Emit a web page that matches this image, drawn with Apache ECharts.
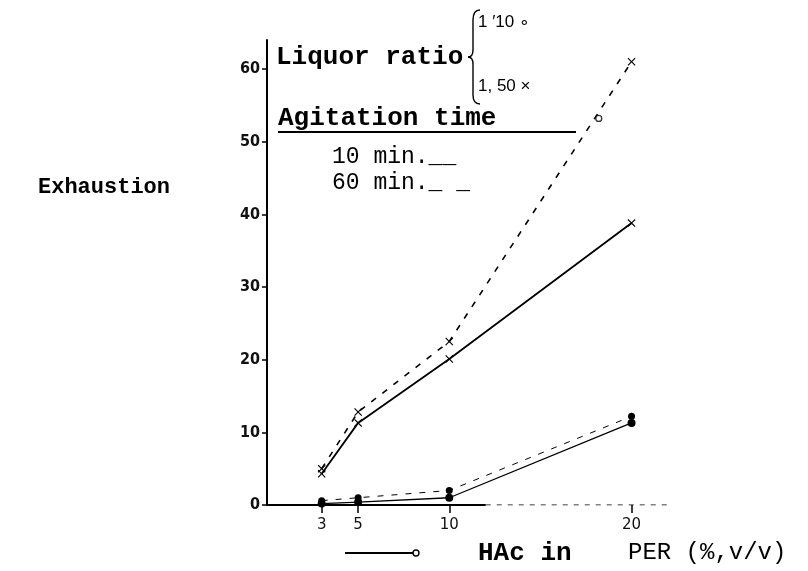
<!DOCTYPE html>
<html>
<head>
<meta charset="utf-8">
<script src="https://cdn.jsdelivr.net/npm/echarts@6/dist/echarts.min.js"></script>
<style>
  html, body { margin: 0; padding: 0; background: #fff; }
  #chart { width: 808px; height: 571px; }
</style>
</head>
<body>
<div id="chart"></div>
<script>
// HAc concentration in PER (%, v/v)
const xTicks = [3, 5, 10, 20]
const yTicks = [0, 10, 20, 30, 40, 50, 60]

// liquor ratio 1:50 (x marks)
const r50min60 = [5.0, 12.8, 22.5, 61.0]
const r50min10 = [4.3, 11.3, 20.1, 38.8]
// liquor ratio 1:10 (o marks)
const r10min10 = [0.2, 0.4, 1.0, 11.3]
const r10min60 = [0.6, 1.0, 2.0, 12.2]
// lone open circle sitting on the dashed 1:50 curve
const strayPoint = [[18.2, 53.2]]

// x axis drawn solid up to about 12, dotted after
const baseSolid = [0, 12]
const baseDotted = [12, 22]

const crossSymbol = 'path://M0,1L1,0L5,4L9,0L10,1L6,5L10,9L9,10L5,6L1,10L0,9L4,5Z'

const pairs = vals => xTicks.map((x, i) => [x, vals[i]])

const chart = echarts.init(document.getElementById('chart'))

const lineSeries = (name, vals, dashed, symbol, width, size) => ({
  name,
  type: 'line',
  data: pairs(vals),
  symbol,
  symbolSize: size,
  showSymbol: true,
  lineStyle: { color: '#000', width, type: dashed ? [6, 8] : 'solid' },
  itemStyle: { color: '#000' },
  z: 3
})

const ink = { stroke: '#000', lineWidth: 1.4, fill: null }

// brace next to "Liquor ratio"
const brace = [
  { type: 'bezierCurve', shape: { x1: 480, y1: 10, x2: 473, y2: 20, cpx1: 473, cpy1: 10 }, style: ink },
  { type: 'line', shape: { x1: 473, y1: 20, x2: 473, y2: 50 }, style: ink },
  { type: 'bezierCurve', shape: { x1: 473, y1: 50, x2: 468, y2: 57, cpx1: 473, cpy1: 57 }, style: ink },
  { type: 'bezierCurve', shape: { x1: 468, y1: 57, x2: 473, y2: 64, cpx1: 473, cpy1: 57 }, style: ink },
  { type: 'line', shape: { x1: 473, y1: 64, x2: 473, y2: 95 }, style: ink },
  { type: 'bezierCurve', shape: { x1: 473, y1: 95, x2: 480, y2: 104, cpx1: 473, cpy1: 104 }, style: ink }
]

const label = (x, y, text, font) => ({
  type: 'text', x, y, style: { text, font, fill: '#000', textVerticalAlign: 'middle' }
})

const option = {
  backgroundColor: '#fff',
  animation: false,
  grid: { left: 267, top: 40, right: 140, bottom: 66, outerBoundsMode: 'none' },
  xAxis: {
    type: 'value',
    min: 0,
    max: 22,
    axisLine: { show: false },
    splitLine: { show: false },
    axisTick: { show: true, customValues: xTicks, length: 8, lineStyle: { color: '#000', width: 1.5 } },
    axisLabel: {
      customValues: xTicks,
      color: '#111',
      fontFamily: 'DejaVu Sans',
      fontSize: 15,
      margin: 13
    }
  },
  yAxis: {
    type: 'value',
    min: 0,
    max: 64,
    interval: 10,
    axisLine: { show: true, lineStyle: { color: '#000', width: 2 } },
    splitLine: { show: false },
    axisTick: { show: true, customValues: yTicks, length: 5, lineStyle: { color: '#000', width: 1.5 } },
    axisLabel: {
      customValues: yTicks,
      color: '#111',
      fontFamily: 'DejaVu Sans Condensed',
      fontWeight: 'bold',
      fontSize: 16,
      margin: 7
    }
  },
  series: [
    {
      type: 'line',
      data: baseSolid.map(x => [x, 0]),
      symbol: 'none',
      lineStyle: { color: '#000', width: 2 },
      z: 2
    },
    {
      type: 'line',
      data: baseDotted.map(x => [x, 0]),
      symbol: 'none',
      lineStyle: { color: '#000', width: 1, type: [5, 6] },
      z: 2
    },
    lineSeries('1:50 60 min', r50min60, true, crossSymbol, 1.6, 8),
    lineSeries('1:50 10 min', r50min10, false, crossSymbol, 1.8, 8),
    lineSeries('1:10 10 min', r10min10, false, 'circle', 1.3, 8),
    lineSeries('1:10 60 min', r10min60, true, 'circle', 1, 7),
    {
      type: 'scatter',
      data: strayPoint,
      symbol: 'circle',
      symbolSize: 6,
      itemStyle: { color: '#fff', borderColor: '#000', borderWidth: 1.3 },
      z: 5
    }
  ],
  graphic: [
    label(38, 187, 'Exhaustion', 'bold 22px "Liberation Mono"'),
    label(276, 57, 'Liquor ratio', 'bold 26px "Liberation Mono"'),
    ...brace,
    label(478, 22, '1 \u203210 \u2218', '17px "Liberation Sans"'),
    label(478, 86, '1, 50 \u00d7', '17px "Liberation Sans"'),
    label(278, 118, 'Agitation time', 'bold 26px "Liberation Mono"'),
    { type: 'line', shape: { x1: 278, y1: 132, x2: 576, y2: 132 }, style: { stroke: '#000', lineWidth: 2 } },
    label(332, 157, '10 min.__', '23px "Liberation Mono"'),
    label(332, 183, '60 min._ _', '23px "Liberation Mono"'),
    { type: 'line', shape: { x1: 345, y1: 553, x2: 413, y2: 553 }, style: { stroke: '#000', lineWidth: 2 } },
    { type: 'circle', shape: { cx: 416, cy: 553, r: 3 }, style: { stroke: '#000', lineWidth: 1.4, fill: '#fff' } },
    label(478, 553, 'HAc in', 'bold 26px "Liberation Mono"'),
    label(628, 553, 'PER (%,v/v)', '24px "Liberation Mono"')
  ]
}

chart.setOption(option)
</script>
</body>
</html>
